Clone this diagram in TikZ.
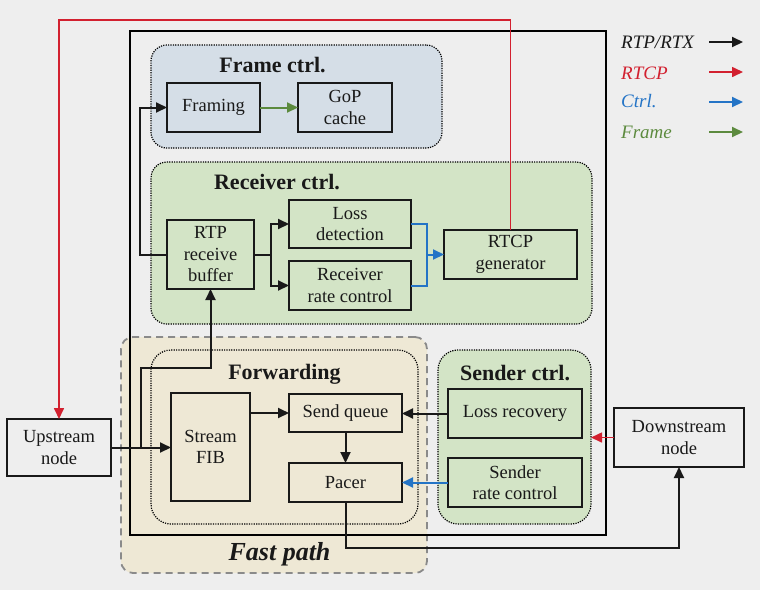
\documentclass[tikz,border=0pt]{standalone}
\usepackage{fontspec}
\setmainfont{Liberation Serif}
\usetikzlibrary{arrows.meta}

\definecolor{BgGray}{HTML}{EEEEEE}
\definecolor{FrameFill}{HTML}{D5DEE7}
\definecolor{GreenFill}{HTML}{D3E4C6}
\definecolor{FastFill}{HTML}{EEE8D5}
\definecolor{RtcpRed}{HTML}{D2202F}
\definecolor{CtrlBlue}{HTML}{2474C6}
\definecolor{FrameGreen}{HTML}{5C8A3E}
\definecolor{DashGray}{HTML}{8A8A8A}

\begin{document}
\begin{tikzpicture}[x=1pt,y=-1pt]
  \tikzset{BoxStyle/.style = {
    shape         = rectangle,
    draw          = black!90,
    line width    = 2pt,
    text          = black!90,
    inner sep     = 1pt,
    outer sep     = 0pt,
    align         = center,
    font          = \fontsize{18.5}{21.5}\selectfont
    }
  }
  \tikzset{PeerStyle/.style = {
    BoxStyle,
    line width    = 2.8pt
    }
  }
  \tikzset{RegionStyle/.style = {
    shape           = rectangle,
    draw            = black,
    line width      = 1.2pt,
    dash pattern    = on 1.2pt off 1.2pt,
    rounded corners = 16pt,
    inner sep       = 0pt,
    outer sep       = 0pt
    }
  }
  \tikzset{TitleStyle/.style = {
    anchor        = base,
    inner sep     = 0pt,
    text          = black!90,
    font          = \fontsize{22}{24}\selectfont\bfseries
    }
  }
  \tikzset{LegendStyle/.style = {
    anchor        = base west,
    inner sep     = 0pt,
    font          = \fontsize{19}{21}\selectfont\itshape
    }
  }
  \tikzset{LinkStyle/.style = {
    line width    = 2pt,
    -{Triangle[length=11pt,width=10pt]}
    }
  }
  \tikzset{RtpStyle/.style   = {LinkStyle, draw = black!90}}
  \tikzset{RtcpStyle/.style  = {LinkStyle, draw = RtcpRed, line width = 1.6pt}}
  \tikzset{CtrlStyle/.style  = {LinkStyle, draw = CtrlBlue}}
  \tikzset{CtrlLine/.style   = {draw = CtrlBlue, line width = 2pt}}
  \tikzset{FrameStyle/.style = {LinkStyle, draw = FrameGreen}}

  % canvas
  \fill[BgGray] (0,0) rectangle (760,590);
  \useasboundingbox (0,0) rectangle (760,590);

  % regions
  \node[draw = DashGray, fill = FastFill, line width = 1.8pt, dash pattern = on 7pt off 5pt,
        rounded corners = 12pt, minimum width = 306pt, minimum height = 236pt,
        outer sep = 0pt](fastpath) at (274, 455) {};
  \node[draw = black, line width = 2.8pt, minimum width = 476pt, minimum height = 504pt,
        outer sep = 0pt](mainbox) at (368, 283) {};
  \node[RegionStyle, fill = FrameFill, minimum width = 291pt, minimum height = 103pt](framectrl) at (296.5, 96.5) {};
  \node[RegionStyle, fill = GreenFill, minimum width = 441pt, minimum height = 162pt](rxctrl) at (371.5, 243) {};
  \node[RegionStyle, fill = FastFill, rounded corners = 20pt, minimum width = 267pt, minimum height = 174pt](fwd) at (284.5, 437) {};
  \node[RegionStyle, fill = GreenFill, rounded corners = 20pt, minimum width = 153pt, minimum height = 174pt](txctrl) at (514.5, 437) {};

  % titles
  \node[TitleStyle](framectrlT) at (272.5, 72.5) {Frame ctrl.};
  \node[TitleStyle](rxctrlT) at (277, 189) {Receiver ctrl.};
  \node[TitleStyle](fwdT) at (284.5, 379) {Forwarding};
  \node[TitleStyle](txctrlT) at (515, 380) {Sender ctrl.};
  \node[TitleStyle, font = \fontsize{26}{28}\selectfont\bfseries\itshape](fastpathT) at (279.5, 560) {Fast path};

  % boxes
  \node[BoxStyle, minimum width = 93pt, minimum height = 49pt](framing) at (213.5, 107.5) {Framing};
  \node[BoxStyle, minimum width = 94pt, minimum height = 49pt](gop) at (345, 107.5) {GoP\\cache};
  \node[BoxStyle, minimum width = 87pt, minimum height = 69pt](rtpbuf) at (210.5, 254.5) {RTP\\receive\\buffer};
  \node[BoxStyle, minimum width = 122pt, minimum height = 48pt](lossdet) at (350, 224) {Loss\\detection};
  \node[BoxStyle, minimum width = 122pt, minimum height = 49pt](rxrate) at (350, 285.5) {Receiver\\rate control};
  \node[BoxStyle, minimum width = 133pt, minimum height = 49pt](rtcpgen) at (510.5, 254.5) {RTCP\\generator};
  \node[BoxStyle, minimum width = 79pt, minimum height = 108pt](fib) at (210.5, 447) {Stream\\FIB};
  \node[BoxStyle, minimum width = 113pt, minimum height = 38pt](sendq) at (345.5, 413) {Send queue};
  \node[BoxStyle, minimum width = 113pt, minimum height = 39pt](pacer) at (345.5, 482.5) {Pacer};
  \node[BoxStyle, minimum width = 134pt, minimum height = 49pt](lossrec) at (515, 413.5) {Loss recovery};
  \node[BoxStyle, minimum width = 134pt, minimum height = 49pt](txrate) at (515, 482.5) {Sender\\rate control};
  \node[PeerStyle, minimum width = 104pt, minimum height = 57pt](upstream) at (59, 447.5) {Upstream\\node};
  \node[PeerStyle, minimum width = 130pt, minimum height = 59pt](downstream) at (679, 437.5) {Downstream\\node};

  % turning points
  \coordinate (FrameTurn) at (140, 254.5);
  \coordinate (RxSplit) at (271, 254.5);
  \coordinate (CtrlMerge) at (427, 254.5);
  \coordinate (RtcpLeft) at (59, 20);
  \coordinate (UpSplit) at (141, 447.5);
  \coordinate (UpTurn) at (210.5, 368);
  \coordinate (OutTurn) at (345.5, 548);

  % connectors
  \draw[RtpStyle](rtpbuf.west) -- (FrameTurn) |- (framing.west);
  \draw[FrameStyle](framing.east) -- (gop.west);
  \draw[RtpStyle](rtpbuf.east) -- (RxSplit) |- (lossdet.west);
  \draw[RtpStyle](RxSplit) |- (rxrate.west);
  \draw[CtrlLine](lossdet.east) -| (CtrlMerge);
  \draw[CtrlLine](rxrate.east) -| (CtrlMerge);
  \draw[CtrlStyle](CtrlMerge) -- (rtcpgen.west);
  \draw[RtcpStyle](rtcpgen.north) |- (RtcpLeft) -- (upstream.north);
  \draw[RtpStyle](upstream.east) -- (upstream.east -| fib.west);
  \draw[RtpStyle](UpSplit) |- (UpTurn) -- (rtpbuf.south);
  \draw[RtpStyle](fib.east |- sendq.west) -- (sendq.west);
  \draw[RtpStyle](sendq.south) -- (pacer.north);
  \draw[RtpStyle](lossrec.west) -- (lossrec.west -| sendq.east);
  \draw[CtrlStyle](txrate.west) -- (txrate.west -| pacer.east);
  \draw[RtpStyle](pacer.south) -- (OutTurn) -| (downstream.south);
  \draw[RtcpStyle](downstream.west) -- (downstream.west -| txctrl.east);

  % legend
  \node[LegendStyle, text = black!90](legRtp) at (621, 48) {RTP/RTX};
  \node[LegendStyle, text = RtcpRed](legRtcp) at (621, 79) {RTCP};
  \node[LegendStyle, text = CtrlBlue](legCtrl) at (621, 107) {Ctrl.};
  \node[LegendStyle, text = FrameGreen](legFrame) at (621, 138) {Frame};
  \foreach \n/\y/\s in {Rtp/42/RtpStyle, Rtcp/72/RtcpStyle, Ctrl/102/CtrlStyle, Frame/132/FrameStyle}{
    \coordinate (leg\n A) at (709, \y);
    \coordinate (leg\n B) at (743, \y);
    \draw[\s](leg\n A) -- (leg\n B);
  }

\end{tikzpicture}
\end{document}
